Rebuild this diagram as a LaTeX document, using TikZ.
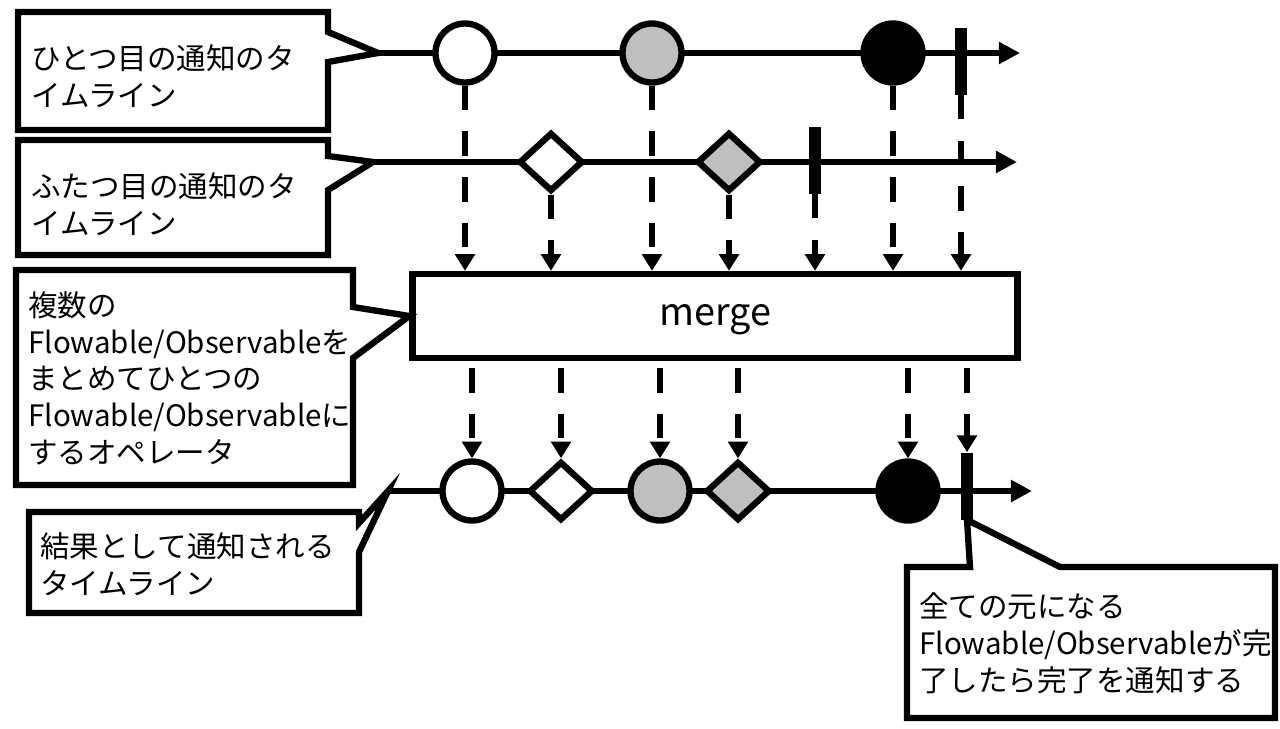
\documentclass[tikz,border=0pt]{standalone}
\usepackage{fontspec}
\setmainfont{Noto Sans CJK JP}
\usetikzlibrary{arrows.meta,shapes.geometric}

\begin{document}
\begin{tikzpicture}[x=0.02cm,y=-0.02cm,
        balloon/.style={draw,line width=3.6pt,fill=white,line join=miter},
        note/.style={anchor=north west,inner sep=0pt,align=left,font=\fontsize{16.8}{21}\selectfont},
        timeline/.style={line width=3.8pt,-{Triangle[length=12pt,width=12pt]}},
        ball/.style={circle,draw,line width=3.6pt,minimum size=1.18cm,inner sep=0pt},
        gem/.style={diamond,draw,line width=3.6pt,minimum width=1.28cm,minimum height=1.18cm,inner sep=0pt},
        endbar/.style={fill=black,minimum width=0.25cm,minimum height=1.34cm,inner sep=0pt},
        flow/.style={line width=3.2pt,dash pattern=on 14pt off 12pt,-{Triangle[length=9.5pt,width=11pt]}}]
        \useasboundingbox[fill=white] (0,0) rectangle (1280,728);
        %% first timeline
        \coordinate (s1) at (378,53);
        \coordinate (e1) at (1020,53);
        \draw[timeline] (s1) -- (e1);
        \node[ball,fill=white] (a1) at (465,53) {};
        \node[ball,fill=black!25] (a2) at (652,53) {};
        \node[ball,fill=black] (a3) at (893,53) {};
        \node[endbar] (a4) at (961,61) {};
        %% second timeline
        \coordinate (s2) at (373,162);
        \coordinate (e2) at (1017,162);
        \draw[timeline] (s2) -- (e2);
        \node[gem,fill=white] (b1) at (551,162) {};
        \node[gem,fill=black!25] (b2) at (729,162) {};
        \node[endbar] (b3) at (815,160) {};
        %% operator
        \node[draw,line width=3.6pt,minimum width=12.1cm,minimum height=1.68cm,
            font=\fontsize{21.5}{26}\selectfont] (merge) at (715,316) {\smash{\raisebox{-5.6pt}{merge}}};
        \foreach \ev in {a1,a2,a3,a4,b1,b2,b3}
            \draw[flow] (\ev.south) -- (\ev |- merge.north);
        %% result timeline
        \coordinate (s3) at (388,491);
        \coordinate (e3) at (1032,491);
        \draw[timeline] (s3) -- (e3);
        \node[ball,fill=white] (r1) at (472,491) {};
        \node[gem,fill=white] (r2) at (561,491) {};
        \node[ball,fill=black!25] (r3) at (660,491) {};
        \node[gem,fill=black!25] (r4) at (738,491) {};
        \node[ball,fill=black] (r5) at (908,491) {};
        \node[endbar] (r6) at (967,486) {};
        \foreach \ev in {r1,r2,r3,r4,r5,r6}
            \draw[flow,shorten <=4pt] (\ev |- merge.south) -- (\ev.north);
        %% balloons
        \draw[balloon] (18,12) -- (328,12) -- (328,32) -- (s1) -- (328,62) -- (328,130) -- (18,130) -- cycle;
        \node[note] (n1) at (31,44) {ひとつ目の通知のタ\\イムライン};
        \draw[balloon] (18,140) -- (328,140) -- (328,156) -- (s2) -- (328,190) -- (328,255) -- (18,255) -- cycle;
        \node[note] (n2) at (31,172) {ふたつ目の通知のタ\\イムライン};
        \draw[balloon] (16,270) -- (353,270) -- (353,307) -- (merge.west) -- (353,358) -- (353,485) -- (16,485) -- cycle;
        \node[note] (n3) at (28,291) {複数の\\Flowable/Observableを\\まとめてひとつの\\Flowable/Observableに\\するオペレータ};
        \draw[balloon] (29,512) -- (359,512) -- (359,523) -- (s3) -- (359,552) -- (359,613) -- (29,613) -- cycle;
        \node[note] (n4) at (40,532) {結果として通知される\\タイムライン};
        \draw[balloon] (907,567) -- (970,567) -- (r6.south) -- (1060,567) -- (1275,567) -- (1275,718) -- (907,718) -- cycle;
        \node[note] (n5) at (919,592) {全ての元になる\\Flowable/Observableが完\\了したら完了を通知する};
    \end{tikzpicture}
\end{document}
